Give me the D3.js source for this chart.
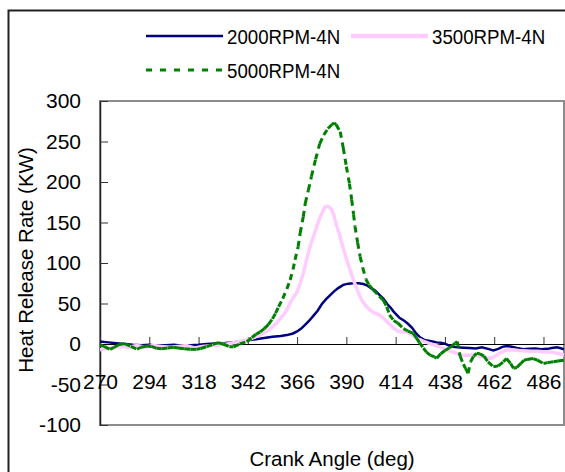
<!DOCTYPE html>
<html>
<head>
<meta charset="utf-8">
<script src="https://cdn.jsdelivr.net/npm/d3@7"></script>
<style>
  body { margin: 0; background: #fff; }
  text { font-family: "Liberation Sans", Arial, sans-serif; fill: #000; }
</style>
</head>
<body>
<div id="chart"></div>
<script>
var seriesNames = ["2000RPM-4N", "3500RPM-4N", "5000RPM-4N"];
var xTicks = [270, 294, 318, 342, 366, 390, 414, 438, 462, 486];
var yTicks = [-100, -50, 0, 50, 100, 150, 200, 250, 300];

// [crank angle, heat release rate]
var rpm2000 = [[270,3],[274,2],[278,1],[282,0],[286,-1],[290,-1.5],[294,-1],[298,-2],[302,-1.5],[306,-1],[310,-2],[314,-1.5],[318,-1],[322,0],[326,0.5],[330,1],[334,2],[338,3],[342,4.5],[346,6],[350,7.5],[354,9],[358,10],[361,11],[364,13],[366,15.5],[368,19],[370,24],[372,29],[374,35],[376,41],[378,49],[380,55],[382,60],[384,65],[386,69],[388.5,73],[391,74.5],[393.5,75],[396,75],[398.3,74],[400,72.5],[402,69],[404,66],[406,61],[408,56],[410,49],[411.5,45],[413,40],[414.5,36],[416,32],[418,29],[420,25],[422,20],[424,13],[426,8],[428,5],[430,4],[432,3],[434,2],[436,1.5],[438,0.5],[440,-2],[442,-3.5],[444,-4],[447,-4.5],[450,-5],[453,-5.5],[456,-4],[459,-6],[461.6,-8],[464,-6],[466,-3.5],[468,-2.5],[470,-3],[473,-5],[476,-6.5],[479,-6],[482,-5.5],[485,-6.5],[488,-6],[490,-5],[492.5,-4],[494,-5],[496,-6.5]];

var rpm3500 = [[270,-7],[273,-6],[276,-4],[280,-3],[284,-4],[288,-2],[292,-4],[296,-2],[300,-3],[304,-4],[308,-3],[312,-2],[316,-5],[320,-3],[324,-2],[328,-1],[332,0],[335,1.6],[338,3],[341.5,5],[344,7],[346,9],[348,11],[350,14],[352,17],[354,21],[356,26],[358,32],[360,38],[361,42],[362.5,50],[364,57],[365.8,63],[367.5,75],[369,87],[370.5,103],[372.3,120],[374,133],[375.6,145],[377,155],[378.5,164],[379.6,169],[381,170],[382.5,167],[383.7,161],[385,148],[386.9,133],[388.5,118],[390.2,104],[392,90],[393.4,79],[395,69],[396.7,58],[398,52],[399.5,47],[401.5,42],[403,39],[406,36],[408,32],[410,27],[412.9,20],[415,16],[417,15],[419.4,15],[422,11],[424,7],[426,5],[428,3],[430,1],[432.4,-1],[435,-3],[437,-5],[438.9,-7.4],[441,-9],[443,-11],[445.4,-13.6],[448,-14],[451.9,-13.6],[455,-15],[458,-17],[460,-17.7],[462,-16],[465,-11],[468.1,-7.4],[471,-7],[474,-8],[476.2,-8.2],[480,-9],[483,-9],[486,-9.5],[489,-10],[492,-11],[494,-12],[496,-13.6]];

var rpm5000 = [[270,-1],[272,-3],[274.9,-6.6],[277,-4],[279,-1],[282,0.5],[285,-3],[288,-6.5],[290,-4],[292.8,-2.5],[295,-3],[297.6,-5.3],[300,-6],[303,-5],[305.7,-4],[308,-5],[311,-6],[314,-6.6],[317,-6.6],[319,-5.5],[322,-3.3],[325,-0.5],[327.6,1.6],[330,0],[333,-3.3],[335,-3.5],[338,0],[341.5,2.8],[344,8],[346,12],[348,15],[350,19],[352,24],[354,31],[355.5,38],[357,46],[359,56],[361,68],[362.6,79],[364,92],[365,104],[366.5,120],[367.5,137],[369,157],[370,174],[371.5,190],[373,207],[375,228],[377,247],[379,258],[381,266],[383,271],[384,273],[385,271],[387,262],[388.5,242],[390,219],[391.5,198],[392.6,178],[393.5,160],[394.2,145],[395.5,125],[396.7,108],[398,94],[399.5,80],[401,73],[403,67],[406,59],[408,54],[409.7,46],[411,36],[413,29],[415,26],[417.8,19],[420,16],[422.6,13],[424,8],[425.5,2],[427.5,-5],[429,-10],[431,-14],[433,-16],[434,-17.7],[436,-12],[438,-8],[440,-5],[441.3,-3],[443,1],[444,3],[445.4,-15],[447,-25],[448,-30],[449.3,-36],[450.5,-22],[452,-15],[453.5,-11.5],[455,-12],[457,-15],[459,-22],[461.6,-28],[464,-27],[466.5,-22],[468,-18],[470,-24],[471.4,-30],[473,-29],[475,-24],[476.5,-20],[478,-19],[481,-18],[483,-20],[486,-24],[488,-23],[491,-22],[493,-21],[496,-20]];

var width  = 565;
var height = 472;
var plot   = {left:100, right:564, top:101, bottom:425};

var svg = d3.select("#chart").append("svg").attr("width", width).attr("height", height);

svg.append("rect").attr("width", width).attr("height", height).attr("fill", "#fff");

// outer chart frame (runs past the window edge)
svg.append("rect").attr("x", 8.5).attr("y", 10.5).attr("width", 620).attr("height", 520)
   .attr("fill", "none").attr("stroke", "#222").attr("stroke-width", 2);

var x = d3.scaleLinear().domain([270, 496]).range([plot.left, plot.right]);
var y = d3.scaleLinear().domain([-100, 300]).range([plot.bottom, plot.top]);

// plot area border
svg.append("rect").attr("x", plot.left).attr("y", plot.top)
   .attr("width", plot.right - plot.left).attr("height", plot.bottom - plot.top)
   .attr("fill", "none").attr("stroke", "#8c8c8c").attr("stroke-width", 2);

var plain = function(d){return String(d);};

var yAxis = d3.axisLeft(y).tickValues(yTicks).tickFormat(plain).tickSizeInner(-8).tickSizeOuter(0).tickPadding(19);
var xAxis = d3.axisBottom(x).tickValues(xTicks).tickFormat(plain).tickSizeInner(-7).tickSizeOuter(0).tickPadding(30);

var yG = svg.append("g").attr("transform", "translate(" + plot.left + ",0)").call(yAxis);
var xG = svg.append("g").attr("transform", "translate(0," + y(0) + ")").call(xAxis);

yG.select(".domain").attr("stroke", "#222").attr("stroke-width", 1.5);
xG.select(".domain").attr("stroke", "#000").attr("stroke-width", 1.2);
yG.selectAll(".tick line").attr("stroke", "#333");
xG.selectAll(".tick line").attr("stroke", "#333");
svg.selectAll(".tick text").attr("font-size", 21).attr("fill", "#000")
   .attr("font-family", "'Liberation Sans', Arial, sans-serif");

svg.append("defs").append("clipPath").attr("id", "clip").append("rect")
   .attr("x", plot.left).attr("y", plot.top)
   .attr("width", plot.right - plot.left).attr("height", plot.bottom - plot.top);

var line = d3.line().x(function(d){return x(d[0]);}).y(function(d){return y(d[1]);});

var lines = svg.append("g").attr("clip-path", "url(#clip)");

lines.append("path").attr("d", line(rpm2000)).attr("fill", "none")
     .attr("stroke", "#000080").attr("stroke-width", 2.5);
lines.append("path").attr("d", line(rpm3500)).attr("fill", "none")
     .attr("stroke", "#ffccff").attr("stroke-width", 3.5);

// dashed series: each segment restarts its dash, as the spreadsheet does
var segs = rpm5000.slice(1).map(function(d, i){return [rpm5000[i], d];});
lines.append("g").selectAll("path").data(segs).enter().append("path")
     .attr("d", function(d){return line(d);})
     .attr("fill", "none").attr("stroke", "#008000").attr("stroke-width", 3)
     .attr("stroke-dasharray", "6,5");

// axis titles
svg.append("text").attr("x", (plot.left + plot.right) / 2).attr("y", 466)
   .attr("text-anchor", "middle").attr("font-size", 20.5).text("Crank Angle (deg)");
svg.append("text").attr("transform", "translate(33,260) rotate(-90)")
   .attr("text-anchor", "middle").attr("font-size", 20.5).text("Heat Release Rate (KW)");

// legend
var legend = [
  {name: seriesNames[0], x: 146, y: 36, color: "#000080", w: 2.5, dash: null},
  {name: seriesNames[1], x: 351, y: 36, color: "#ffccff", w: 4.5, dash: null},
  {name: seriesNames[2], x: 146, y: 70, color: "#008000", w: 3, dash: "6,8"}
];

legend.forEach(function(l){
    svg.append("line").attr("x1", l.x).attr("x2", l.x + 77).attr("y1", l.y).attr("y2", l.y)
       .attr("stroke", l.color).attr("stroke-width", l.w).attr("stroke-dasharray", l.dash);
    svg.append("text").attr("transform", "translate(" + (l.x + 81) + "," + (l.y + 7.5) + ") scale(0.89,1)")
       .attr("font-size", 21).text(l.name);
});
</script>
</body>
</html>
